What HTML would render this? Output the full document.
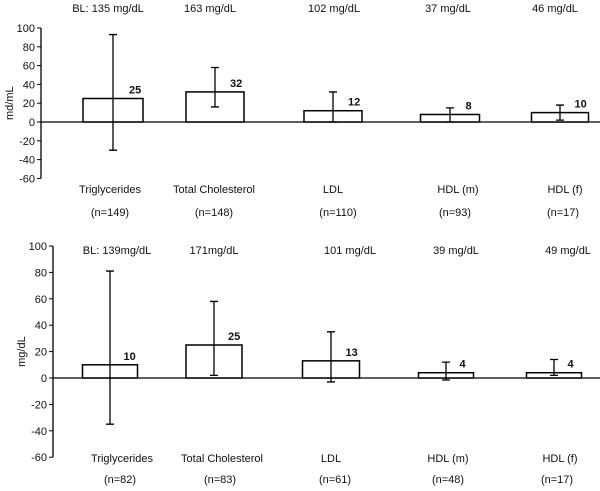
<!DOCTYPE html>
<html><head><meta charset="utf-8"><style>
body{margin:0;background:#fff}
svg text{font-family:"Liberation Sans",Arial,sans-serif;font-size:11px;fill:#111}
</style></head><body>
<svg id="c" width="600" height="486" xmlns="http://www.w3.org/2000/svg"></svg>
<script>
const categories=["Triglycerides","Total Cholesterol","LDL","HDL (m)","HDL (f)"];
const topBaseline=["BL: 135 mg/dL","163 mg/dL","102 mg/dL","37 mg/dL","46 mg/dL"];
const topN=["(n=149)","(n=148)","(n=110)","(n=93)","(n=17)"];
const topValues=[25,32,12,8,10];
const topErrHi=[93,58,32,15,18];
const topErrLo=[-30,16,0,0,2];
const botBaseline=["BL: 139mg/dL","171mg/dL","101 mg/dL","39 mg/dL","49 mg/dL"];
const botN=["(n=82)","(n=83)","(n=61)","(n=48)","(n=17)"];
const botValues=[10,25,13,4,4];
const botErrHi=[81,58,35,12,14];
const botErrLo=[-35,2,-3,-1.5,2];
const ticks=[100,80,60,40,20,0,-20,-40,-60];

const svg=document.getElementById('c');
const NS='http://www.w3.org/2000/svg';
function el(t,a,txt){const e=document.createElementNS(NS,t);for(const k in a)e.setAttribute(k,a[k]);if(txt!==undefined)e.textContent=txt;svg.appendChild(e);return e;}
function panel(p,o){
  const y=v=>o.y0-(v)*o.k;
  let ax=el('line',{x1:o.ax,y1:y(100),x2:o.ax,y2:y(-60),stroke:'#000','stroke-width':1.3});
  
  ticks.forEach(t=>{
    let l=el('line',{x1:o.ax-4,y1:y(t),x2:o.ax,y2:y(t),stroke:'#000'});
    
    let tx=el('text',{x:o.ax-6,y:y(t)+4,'text-anchor':'end'},String(t));
    
  });
  let zl=el('line',{x1:o.ax,y1:y(0),x2:600,y2:y(0),stroke:'#000','stroke-width':1.3});
  
  let yt=el('text',{x:0,y:0,transform:`translate(${o.ax-28},${y(20)}) rotate(-90)`,'text-anchor':'middle'},o.title);
  
  categories.forEach((c,i)=>{
    const cx=o.cx[i],w=o.w[i],v=o.vals[i];
    let r=el('rect',{x:cx-w/2,y:Math.min(y(v),y(0)),width:w,height:Math.abs(y(v)-y(0)),fill:'#fff',stroke:'#000','stroke-width':1.5});
    
    const hi=y(o.hi[i]),lo=y(o.lo[i]);
    let e=el('path',{d:`M${cx} ${hi}V${lo}M${cx-4} ${hi}H${cx+4}M${cx-4} ${lo}H${cx+4}`,stroke:'#000','stroke-width':1.3,fill:'none'});
    
    let vl=el('text',{x:cx+w/2-14,y:y(v)-5,'font-weight':'bold','font-size':'12px'},String(v));
    
    let bl=el('text',{x:o.blx[i],y:o.blY,'text-anchor':'middle'},o.bl[i]);
    
    let cl=el('text',{x:o.lx[i],y:o.catY,'text-anchor':'middle'},c);
    
    let nl=el('text',{x:o.nx[i],y:o.nY,'text-anchor':'middle'},o.n[i]);
    
  });
}
panel('top',{ax:41,y0:122,k:0.94,vals:topValues,hi:topErrHi,lo:topErrLo,bl:topBaseline,n:topN,title:'md/mL',blY:12,catY:193,nY:216,
  cx:[113,215,333,450,560],w:[60,58,58,59,57],blx:[108,210,334,448,555],lx:[110,214,333,458,565],nx:[110,214,338,455,563]});
panel('bottom',{ax:53,y0:378,k:1.32,vals:botValues,hi:botErrHi,lo:botErrLo,bl:botBaseline,n:botN,title:'mg/dL',blY:254,catY:462,nY:483,
  cx:[110,214,331,446,554],w:[55,56,57,55,55],blx:[117,214,350,456,568],lx:[122,222,331,448,560],nx:[120,220,335,448,557]});
</script>
</body></html>
